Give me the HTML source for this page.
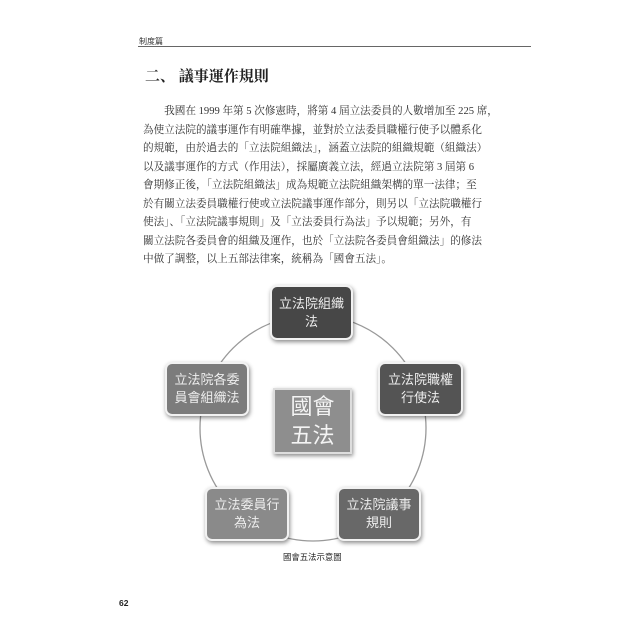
<!DOCTYPE html>
<html><head><meta charset="utf-8"><style>
body{margin:0;width:640px;height:640px;background:#fff;position:relative;overflow:hidden;font-family:"Liberation Serif","Noto Serif CJK SC","Noto Sans CJK TC",serif;color:#222}
.a{position:absolute}
.p{left:143px;width:340px;font-size:10.6px;line-height:18.5px;top:103px;color:#333}
.p div{white-space:nowrap;height:18.5px}
.n{position:absolute;box-sizing:border-box;border:2px solid #f2f2f2;border-radius:7px;box-shadow:1px 2px 4px rgba(0,0,0,.45);color:#eee;font-family:"Liberation Sans","Noto Sans CJK TC",sans-serif;font-size:13px;line-height:18px;text-align:center;display:flex;align-items:center;justify-content:center;white-space:nowrap}
</style></head><body>
<div class="a" style="left:139px;top:36px;font-size:8px;font-family:'Noto Sans CJK TC',sans-serif;color:#333">制度篇</div>
<div class="a" style="left:138px;top:46px;width:393px;height:1px;background:#666"></div>
<div class="a" style="left:145px;top:65px;font-size:15px;font-weight:bold;font-family:'Noto Serif CJK SC',serif;white-space:nowrap">二、&nbsp;議事運作規則</div>
<div class="a p">
<div>　　我國在 1999 年第 5 次修憲時，將第 4 屆立法委員的人數增加至 225 席，</div>
<div>為使立法院的議事運作有明確準據，並對於立法委員職權行使予以體系化</div>
<div>的規範，由於過去的「立法院組織法」，涵蓋立法院的組織規範（組織法）</div>
<div>以及議事運作的方式（作用法），採屬廣義立法，經過立法院第 3 屆第 6</div>
<div>會期修正後，「立法院組織法」成為規範立法院組織架構的單一法律；至</div>
<div>於有關立法委員職權行使或立法院議事運作部分，則另以「立法院職權行</div>
<div>使法」、「立法院議事規則」及「立法委員行為法」予以規範；另外，有</div>
<div>關立法院各委員會的組織及運作，也於「立法院各委員會組織法」的修法</div>
<div>中做了調整，以上五部法律案，統稱為「國會五法」。</div>
</div>
<svg class="a" style="left:0;top:0" width="640" height="640"><circle cx="313" cy="428" r="113" fill="none" stroke="#999" stroke-width="1.3"/></svg>
<div class="n" style="left:270px;top:285px;width:83px;height:55px;background:#474747">立法院組織<br>法</div>
<div class="n" style="left:378px;top:362px;width:85px;height:54px;background:#545454">立法院職權<br>行使法</div>
<div class="n" style="left:165px;top:362px;width:84px;height:54px;background:#7c7c7c">立法院各委<br>員會組織法</div>
<div class="n" style="left:205px;top:487px;width:84px;height:54px;background:#8a8a8a">立法委員行<br>為法</div>
<div class="n" style="left:337px;top:487px;width:84px;height:54px;background:#686868">立法院議事<br>規則</div>
<div class="n" style="left:273px;top:388px;width:79px;height:66px;background:#8e8e8e;border-radius:0;border:2px solid #ddd;font-size:22px;line-height:29px;color:#f4f4f4">國會<br>五法</div>
<div class="a" style="left:283px;top:551px;font-size:8.4px;font-family:'Noto Sans CJK TC',sans-serif;color:#222;white-space:nowrap">國會五法示意圖</div>
<div class="a" style="left:119px;top:598px;font-size:8.5px;font-weight:bold;font-family:'Liberation Sans',sans-serif">62</div>
</body></html>
